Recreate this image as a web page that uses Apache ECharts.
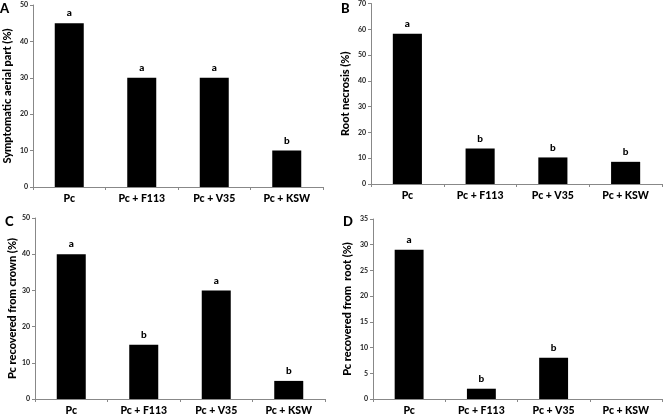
<!DOCTYPE html>
<html>
<head>
<meta charset="utf-8">
<script src="https://cdn.jsdelivr.net/npm/echarts@6/dist/echarts.min.js"></script>
<style>html,body{margin:0;padding:0;background:#fff}#c{width:664px;height:416px}</style>
</head>
<body>
<div id="c"></div>
<script>
var categories = ['Pc', 'Pc + F113', 'Pc + V35', 'Pc + KSW'];

var valuesA = [45, 30, 30, 10];
var lettersA = ['a', 'a', 'a', 'b'];
var valuesB = [58.3, 13.8, 10.3, 8.6];
var lettersB = ['a', 'b', 'b', 'b'];
var valuesC = [40, 15, 30, 5];
var lettersC = ['a', 'b', 'a', 'b'];
var valuesD = [29, 2, 8, 0];
var lettersD = ['a', 'b', 'b', ''];

var titles = ['Symptomatic aerial part (%)', 'Root necrosis (%)', 'Pc recovered from crown (%)', 'Pc recovered from  root (%)'];
var panelLetters = ['A', 'B', 'C', 'D'];
var yMax = [50, 70, 50, 35];
var yStep = [10, 10, 10, 5];

var FONT = 'Lato';
var grids = [
  {left: 33, right: 341, top: 5, bottom: 229},
  {left: 371, right: 2, top: 3, bottom: 232},
  {left: 35, right: 339, top: 218, bottom: 16},
  {left: 373, right: 2, top: 219, bottom: 13}
];
var nameGaps = [20, 20, 12, 20];
var allValues = [valuesA, valuesB, valuesC, valuesD];
var allLetters = [lettersA, lettersB, lettersC, lettersD];

var xAxes = [], yAxes = [], series = [];
for (var i = 0; i < 4; i++) {
  xAxes.push({
    type: 'category', gridIndex: i, data: categories,
    axisLine: {lineStyle: {color: '#888', width: 1}},
    axisTick: {show: true, length: 3, lineStyle: {color: '#888'}},
    axisLabel: {color: '#000', fontFamily: FONT, fontWeight: 900, fontSize: 10.5, margin: 6}
  });
  yAxes.push({
    type: 'value', gridIndex: i, min: 0, max: yMax[i], interval: yStep[i],
    name: titles[i], nameLocation: 'middle', nameGap: nameGaps[i],
    nameTextStyle: {color: '#000', fontFamily: FONT, fontWeight: 900, fontSize: 11},
    axisLine: {show: true, lineStyle: {color: '#888', width: 1}},
    axisTick: {show: true, length: 3, lineStyle: {color: '#888'}},
    splitLine: {show: false},
    axisLabel: {color: '#222', fontFamily: FONT, fontWeight: 'bold', fontSize: 7, margin: 5}
  });
  (function (idx) {
    series.push({
      type: 'bar', xAxisIndex: idx, yAxisIndex: idx, data: allValues[idx],
      barWidth: '40%',
      itemStyle: {color: '#000'},
      label: {
        show: true, position: 'top', distance: 5,
        color: '#000', fontFamily: FONT, fontWeight: 900, fontSize: 10,
        formatter: function (p) { return allLetters[idx][p.dataIndex]; }
      }
    });
  })(i);
}

var letterPos = [[0, 2], [341, 2], [5, 215], [343, 215]];
var graphic = [];
for (var j = 0; j < 4; j++) {
  graphic.push({
    type: 'text', left: letterPos[j][0], top: letterPos[j][1],
    style: {text: panelLetters[j], fill: '#000', font: '900 13px ' + FONT}
  });
}

var chart = echarts.init(document.getElementById('c'), null, {renderer: 'canvas'});
chart.setOption({
  animation: false,
  backgroundColor: '#fff',
  grid: grids,
  xAxis: xAxes,
  yAxis: yAxes,
  series: series,
  graphic: graphic
});
</script>
</body>
</html>
